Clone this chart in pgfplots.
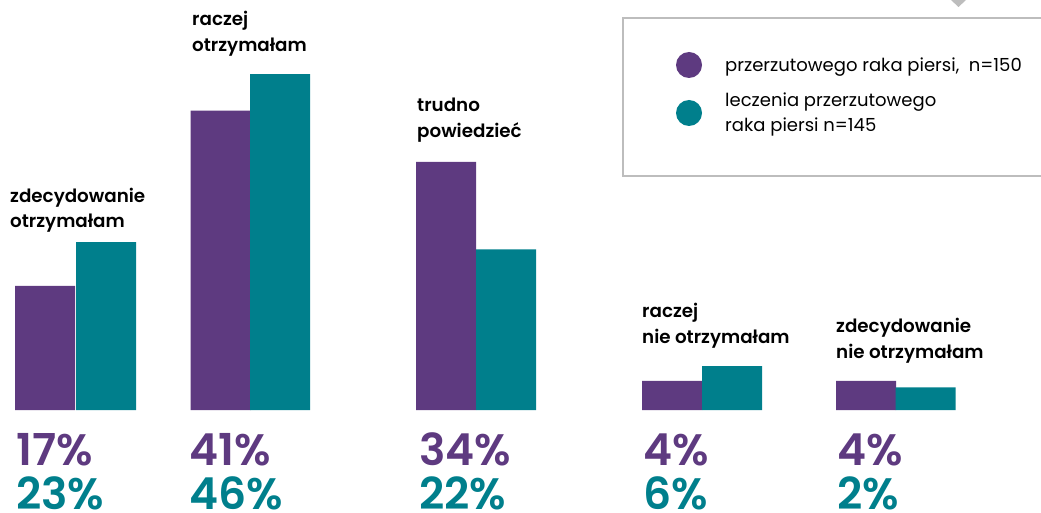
\documentclass[border=0pt]{standalone}
\usepackage{pgfplots}
\pgfplotsset{compat=1.18}
\usepackage{fontspec}
\setmainfont{Poppins}[BoldFont={Poppins SemiBold}]
\definecolor{fiolet}{HTML}{5E3A80}
\definecolor{morski}{HTML}{007F8C}
\definecolor{ramka}{HTML}{BDBDBD}

\begin{document}
\begin{tikzpicture}
\begin{axis}[
  at={(0,0)}, anchor=south west,
  scale only axis, width=1041pt, height=512pt,
  xmin=0, xmax=1041, ymin=-13.97, ymax=56.16,
  axis lines=none, ticks=none,
  ybar, bar width=60, bar shift=0,
  clip=false,
]
% przerzutowego raka piersi, n=150
\addplot[fill=fiolet, draw=none] coordinates {
  (45,17) (220.5,41) (446,34) (672,4) (866,4)
};
% leczenia przerzutowego raka piersi, n=145
\addplot[fill=morski, draw=none] coordinates {
  (106,23) (280,46) (506,22) (732,6) (925.5,3.1)
};
\end{axis}

\begin{scope}[x=1pt, y=-1pt, yshift=512pt]
  % kategorie
  \tikzset{kat/.style={anchor=base west, inner sep=0pt,
    font=\fontsize{18.3}{20}\selectfont\bfseries}}
  \node[kat] at (10,203) {zdecydowanie};
  \node[kat] at (10,228) {otrzymałam};
  \node[kat] at (192,26) {raczej};
  \node[kat] at (192,52) {otrzymałam};
  \node[kat] at (417,112) {trudno};
  \node[kat] at (417,138) {powiedzieć};
  \node[kat] at (642,317) {raczej};
  \node[kat] at (642,343) {nie otrzymałam};
  \node[kat] at (836,332) {zdecydowanie};
  \node[kat] at (836,358) {nie otrzymałam};

  % wartości
  \tikzset{pr/.style={anchor=base west, inner sep=0pt,
    font=\fontsize{44}{50}\selectfont\bfseries}}
  \node[pr, fiolet] at (16,465) {17\%};
  \node[pr, morski] at (16,509) {23\%};
  \node[pr, fiolet] at (189,465) {41\%};
  \node[pr, morski] at (189,509) {46\%};
  \node[pr, fiolet] at (419,465) {34\%};
  \node[pr, morski] at (419,509) {22\%};
  \node[pr, fiolet] at (643,465) {4\%};
  \node[pr, morski] at (643,509) {6\%};
  \node[pr, fiolet] at (837,465) {4\%};
  \node[pr, morski] at (837,509) {2\%};

  % legenda
  \draw[ramka, line width=1.2pt] (1045,18) -- (623,18) -- (623,176) -- (1045,176);
  \fill[fiolet] (689,65) circle (13);
  \fill[morski] (689,113) circle (13);
  \tikzset{leg/.style={anchor=base west, inner sep=0pt,
    font=\fontsize{18}{20}\selectfont}}
  \node[leg] at (725,72) {przerzutowego raka piersi,\ \ n=150};
  \node[leg] at (725,107) {leczenia przerzutowego};
  \node[leg] at (725,132) {raka piersi n=145};

  % strzałka
  \fill[ramka] (951,0) -- (966,0) -- (958.5,7) -- cycle;
\end{scope}

\pgfresetboundingbox
\path[use as bounding box] (0,0) rectangle (1041pt,512pt);
\end{tikzpicture}
\end{document}
